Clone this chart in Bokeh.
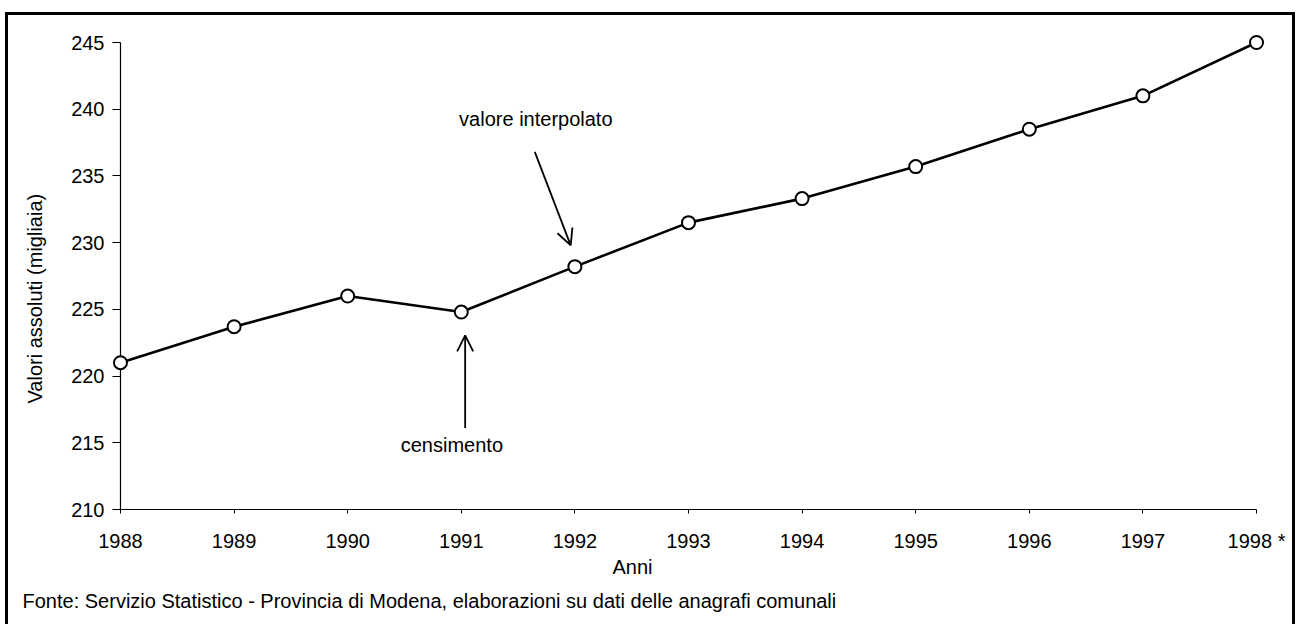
import math
from bokeh.plotting import figure
from bokeh.models import (Range1d, FixedTicker, Label, Arrow, OpenHead,
                          Title, ColumnDataSource)
from bokeh.embed import file_html
from bokeh.resources import INLINE

# ---- data ----
years = [1988, 1989, 1990, 1991, 1992, 1993, 1994, 1995, 1996, 1997, 1998]
values = [221.0, 223.7, 226.0, 224.8, 228.2, 231.5, 233.3, 235.7, 238.5, 241.0, 245.0]
tick_labels = ["1988", "1989", "1990", "1991", "1992", "1993", "1994",
               "1995", "1996", "1997", "1998 *"]
y_ticks = [210, 215, 220, 225, 230, 235, 240, 245]

x_title = "Anni"
y_title = "Valori assoluti (migliaia)"
source_note = "Fonte: Servizio Statistico - Provincia di Modena, elaborazioni su dati delle anagrafi comunali"
note_interp = "valore interpolato"
note_census = "censimento"

FONT = "Liberation Sans"
FS = "20px"

# ---- layout ----
W, H = 1297, 624
LEFT, RIGHT, TOP, BOTTOM = 110, 32, 33, 115
frame_w = W - LEFT - RIGHT
frame_h = H - TOP - BOTTOM
PAD_L, PAD_R, PAD_T = 8, 9, 9          # room so the end markers are not clipped
px_per_year = (frame_w - PAD_L - PAD_R) / (years[-1] - years[0])
px_per_unit = (frame_h - PAD_T) / (y_ticks[-1] - y_ticks[0])
x_range = Range1d(years[0] - PAD_L / px_per_year, years[-1] + PAD_R / px_per_year)
y_range = Range1d(y_ticks[0], y_ticks[-1] + PAD_T / px_per_unit)

p = figure(width=W, height=H, output_backend="svg", toolbar_location=None,
           x_range=x_range, y_range=y_range,
           min_border_left=LEFT, min_border_right=RIGHT, min_border_top=TOP,
           min_border_bottom=BOTTOM)
p.outline_line_color = None
p.xgrid.visible = False
p.ygrid.visible = False
p.background_fill_color = "white"
p.border_fill_alpha = 0
p.styles = {
    "box-shadow": ("inset 5px 0 0 0 #fff, inset 0 12px 0 0 #fff, inset -2px 0 0 0 #fff, "
                   "inset 8px 0 0 0 #000, inset 0 15px 0 0 #000, inset -5px 0 0 0 #000"),
    "background-color": "#fff",
}

# axes
p.xaxis.ticker = FixedTicker(ticks=years)
p.xaxis.major_label_overrides = {y: l for y, l in zip(years, tick_labels)}
p.xaxis.bounds = (years[0], years[-1])
p.yaxis.ticker = FixedTicker(ticks=y_ticks)
for ax in (p.xaxis[0], p.yaxis[0]):
    ax.axis_line_color = "black"
    ax.axis_line_width = 1.2
    ax.major_tick_line_color = "black"
    ax.major_tick_line_width = 1
    ax.minor_tick_line_color = None
    ax.major_label_text_font = FONT
    ax.major_label_text_font_size = FS
    ax.major_label_text_color = "black"
p.xaxis.major_tick_in = 0
p.xaxis.major_tick_out = 4
p.xaxis.major_label_standoff = 16
p.yaxis.axis_line_color = None
p.yaxis.major_tick_in = PAD_L
p.yaxis.major_tick_out = 0
p.yaxis.major_label_standoff = 8

# y axis line at the first year
p.segment(x0=[years[0]], y0=[y_ticks[0]], x1=[years[0]], y1=[y_ticks[-1]],
          line_color="black", line_width=1.2)

# series
src = ColumnDataSource(dict(x=years, y=values))
p.line("x", "y", source=src, line_color="black", line_width=2.6)
p.scatter("x", "y", source=src, size=13, fill_color="white",
          line_color="black", line_width=2)

# annotations (relative to the annotated points)
i92 = years.index(1992)
i91 = years.index(1991)
p.add_layout(Arrow(end=OpenHead(size=16, line_width=1.8, line_color="black"),
                   x_start=years[i92] - 0.353, y_start=values[i92] + 8.6,
                   x_end=years[i92] - 0.037, y_end=values[i92] + 1.6,
                   line_width=1.8, line_color="black"))
p.add_layout(Label(x=years[i92] - 0.344, y=values[i92] + 11.1, text=note_interp,
                   text_font=FONT, text_font_size=FS, text_align="center",
                   text_baseline="middle", text_color="black"))
p.add_layout(Arrow(end=OpenHead(size=16, line_width=1.8, line_color="black"),
                   x_start=years[i91] + 0.034, y_start=values[i91] - 8.7,
                   x_end=years[i91] + 0.034, y_end=values[i91] - 1.75,
                   line_width=1.8, line_color="black"))
p.add_layout(Label(x=years[i91] - 0.083, y=values[i91] - 10.0, text=note_census,
                   text_font=FONT, text_font_size=FS, text_align="center",
                   text_baseline="middle", text_color="black"))

# titles in the side panels
p.add_layout(Title(text=y_title, align="left", offset=106, vertical_align="middle",
                   standoff=44, text_font=FONT, text_font_size=FS,
                   text_font_style="normal", text_color="black"), "left")
p.add_layout(Title(text=x_title, align="left", offset=500, vertical_align="middle",
                   standoff=0, text_font=FONT, text_font_size=FS,
                   text_font_style="normal", text_color="black"), "below")
p.add_layout(Title(text=source_note, align="left", offset=-90, vertical_align="middle",
                   standoff=20, text_font=FONT, text_font_size=FS,
                   text_font_style="normal", text_color="black"), "below")

open("out.html", "w").write(file_html(p, INLINE))
